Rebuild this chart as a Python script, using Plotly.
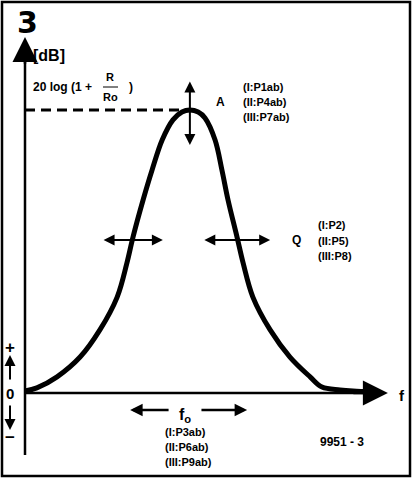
import plotly.graph_objects as go

# Resonance curve: relative frequency (x) vs. gain (dB units, peak = 10)
freq = [0, 0.33, 0.89, 1.53, 2.08, 2.56, 2.83, 3.0, 3.28, 3.53, 3.81, 4.11, 4.36, 4.58,
        4.81, 5.0, 5.28, 5.47, 5.64, 5.89, 6.06, 6.33, 6.81, 7.36, 7.92, 8.25, 8.75, 9.11, 9.67]
gain = [0.07, 0.18, 0.57, 1.27, 2.23, 3.39, 4.59, 5.51, 6.82, 7.88, 8.94, 9.65, 9.93, 10.0,
        9.93, 9.72, 8.94, 7.88, 6.82, 5.51, 4.59, 3.39, 2.23, 1.27, 0.57, 0.21, 0.11, 0.07, 0.04]

x_axis_end = 10.08
y_axis_top = 12.58
y_axis_bottom = -2.19

labels_A = ["(I:P1ab)", "(II:P4ab)", "(III:P7ab)"]
labels_Q = ["(I:P2)", "(II:P5)", "(III:P8)"]
labels_f = ["(I:P3ab)", "(II:P6ab)", "(III:P9ab)"]

W, H = 413, 481
FONT = "Liberation Sans"

ipk = gain.index(max(gain))
xpk, ypk = freq[ipk], gain[ipk]
iL, iR = 7, 19  # curve points where Q arrows cross

fig = go.Figure()

# axes lines
fig.add_trace(go.Scatter(x=[0, 0], y=[y_axis_bottom, y_axis_top - 0.6], mode="lines",
                         line=dict(color="black", width=2.5), hoverinfo="skip"))
fig.add_trace(go.Scatter(x=[0, x_axis_end - 0.5], y=[0, 0], mode="lines",
                         line=dict(color="black", width=2.5), hoverinfo="skip"))
# dashed level line
fig.add_trace(go.Scatter(x=[0, xpk], y=[ypk, ypk], mode="lines",
                         line=dict(color="black", width=3, dash="10px,6px"), hoverinfo="skip"))
# curve
fig.add_trace(go.Scatter(x=freq, y=gain, mode="lines", line=dict(color="black", width=5, shape="spline"),
                         hoverinfo="skip"))


def P(x, y):
    return dict(x=x / W, y=1 - y / H, xref="paper", yref="paper")


def txt(x, y, s, size=11, anchor="center", family=FONT):
    fig.add_annotation(**P(x, y), text="<b>" + s + "</b>", showarrow=False, xanchor=anchor,
                       yanchor="middle", font=dict(family=family, size=size, color="black"))


def arrow(x0, y0, x1, y1, width=2, size=1.2, both=False):
    fig.add_annotation(x=x1, y=y1, ax=x0, ay=y0, xref="x", yref="y", axref="x", ayref="y",
                       showarrow=True, arrowhead=2, arrowwidth=width, arrowsize=size,
                       arrowcolor="black", arrowside="end+start" if both else "end", text="")


# axis arrow heads
arrow(0, y_axis_top - 1.0, 0, y_axis_top, width=2.5, size=2.0)
arrow(x_axis_end - 1.0, 0, x_axis_end, 0, width=2.5, size=2.0)

# A arrow (amplitude)
arrow(xpk, ypk + 1.06, xpk, ypk - 1.24, width=2, size=1.1, both=True)
# Q arrows
arrow(freq[iL] - 0.86, gain[iL] - 0.1, freq[iL] + 0.83, gain[iL] - 0.1, width=2, size=1.1, both=True)
arrow(freq[iR] - 0.95, gain[iR] - 0.1, freq[iR] + 0.92, gain[iR] - 0.1, width=2, size=1.1, both=True)
# f0 arrows
arrow(xpk - 0.55, -0.6, xpk - 1.66, -0.6, width=2.5, size=1.0)
arrow(xpk + 0.28, -0.6, xpk + 1.59, -0.6, width=2.5, size=1.0)

# +/- arrows at left
fig.add_annotation(**P(10, 355), ax=0, ay=26, showarrow=True, arrowhead=2, arrowwidth=2,
                   arrowsize=1.1, arrowcolor="black", text="")
fig.add_annotation(**P(10, 430), ax=0, ay=-26, showarrow=True, arrowhead=2, arrowwidth=2,
                   arrowsize=1.1, arrowcolor="black", text="")

# texts
txt(27, 22, "3", 30, family="DejaVu Sans")
txt(49, 55, "[dB]", 16)
txt(31, 87, "20 log (1 +", 12, "left")
txt(110, 77, "R", 11)
txt(110, 97, "Ro", 11)
txt(131, 87, ")", 12)
fig.add_shape(type="line", xref="paper", yref="paper", x0=103 / W, x1=118 / W,
              y0=1 - 87 / H, y1=1 - 87 / H, line=dict(color="black", width=1))
txt(220, 102, "A", 12)
for i, s in enumerate(labels_A):
    txt(241, 87 + 15 * i, s, 11, "left")
txt(296, 240, "Q", 12)
for i, s in enumerate(labels_Q):
    txt(316, 225 + 15.5 * i, s, 11, "left")
for i, s in enumerate(labels_f):
    txt(163, 432 + 15 * i, s, 11, "left")
fig.add_annotation(**P(185, 415), text="<b>f<sub>o</sub></b>", showarrow=False,
                   xanchor="center", yanchor="middle",
                   font=dict(family=FONT, size=16, color="black"))
txt(402, 395, "f", 15)
txt(318, 442, "9951 - 3", 12, "left")
txt(10, 347, "+", 17)
txt(10, 393, "0", 15)
txt(10, 437, "−", 17)

# frame
fig.add_shape(type="rect", xref="paper", yref="paper", x0=2 / W, x1=410 / W,
              y0=1 - 476 / H, y1=1 - 2 / H, line=dict(color="black", width=2.5))

fig.update_layout(
    width=W, height=H, margin=dict(l=0, r=0, t=0, b=0),
    paper_bgcolor="white", plot_bgcolor="white", showlegend=False,
    xaxis=dict(range=[-25 / 36, 388 / 36], visible=False, fixedrange=True),
    yaxis=dict(range=[-88 / 28.3, 393 / 28.3], visible=False, fixedrange=True),
)
fig.write_html("out.html", config={"displayModeBar": False},
               post_script="document.body.style.margin='0';document.body.style.overflow='hidden';")
